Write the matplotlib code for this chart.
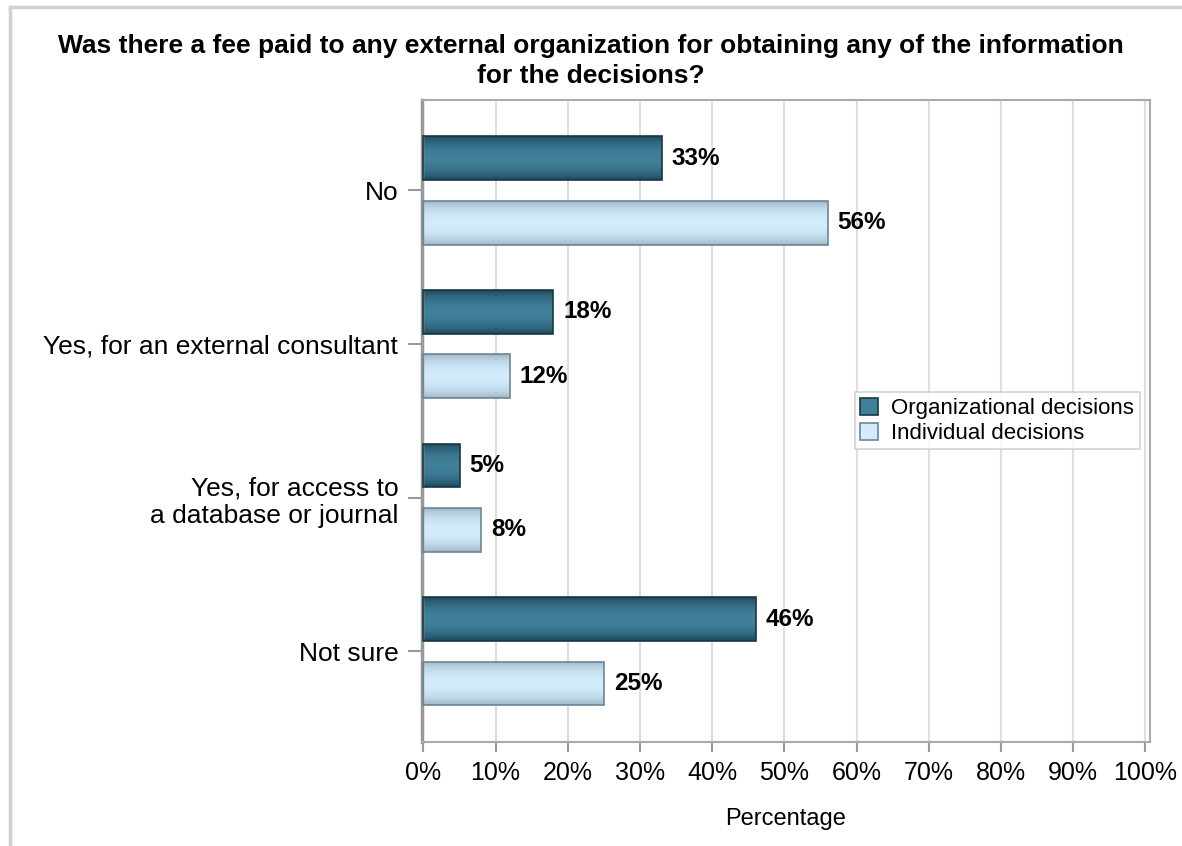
import numpy as np
import matplotlib
matplotlib.use("Agg")
import matplotlib.pyplot as plt
from matplotlib.colors import to_rgb
from matplotlib.lines import Line2D
from matplotlib.patches import Patch

plt.rcParams['font.family'] = ['Liberation Sans', 'DejaVu Sans']

title = "Was there a fee paid to any external organization for obtaining any of the information\nfor the decisions?"
categories = ["No", "Yes, for an external consultant", "Yes, for access to\na database or journal", "Not sure"]
series_names = ["Organizational decisions", "Individual decisions"]
org_values = [33, 18, 5, 46]
ind_values = [56, 12, 8, 25]
x_ticks = [0, 10, 20, 30, 40, 50, 60, 70, 80, 90, 100]

# (edge colour, centre colour, outline) for the shaded bars
styles = [
    ("#173f52", "#41809a", "#1a3645"),
    ("#97afbf", "#d3ecfc", "#6d8594"),
]


def shade(ax, rect, edge, centre):
    # vertical shading: dark at top/bottom edges, light through the middle
    t = np.linspace(0, 1, 64)
    w = np.sin(np.pi * t) ** 0.6
    e = np.array(to_rgb(edge))
    c = np.array(to_rgb(centre))
    img = (e[None, :] * (1 - w[:, None]) + c[None, :] * w[:, None])[:, None, :]
    x, y = rect.get_x(), rect.get_y()
    im = ax.imshow(img, extent=[x, x + rect.get_width(), y, y + rect.get_height()],
                   aspect='auto', interpolation='bilinear', zorder=2)
    im.set_clip_path(rect)


fig = plt.figure(figsize=(11.82, 8.46), dpi=100)
ax = fig.add_axes([0.357, 0.123, 0.616, 0.759])

pos = np.arange(len(categories))
h = 0.285
off = 0.21
for vals, sgn, (edge, centre, line) in zip([org_values, ind_values], [-1, 1], styles):
    bars = ax.barh(pos + sgn * off, vals, height=h, facecolor='none',
                   edgecolor=line, linewidth=1.2, zorder=3)
    for rect, v in zip(bars, vals):
        shade(ax, rect, edge, centre)
        ax.annotate(f"{v}%", (v, rect.get_y() + rect.get_height() / 2),
                    xytext=(7, 0), textcoords='offset points', va='center',
                    ha='left', fontsize=17.5, fontweight='bold', color='black')

ax.set_xlim(-0.2, 100.65)
ax.set_ylim(len(categories) - 1 + 0.59, -0.59)
ax.set_xticks(x_ticks)
ax.set_xticklabels([f"{t}%" for t in x_ticks], fontsize=18)
ax.set_yticks(pos)
ax.set_yticklabels(categories, fontsize=19)
ax.tick_params(axis='x', length=7, width=1.5, color='#9a9a9a', pad=7)
ax.tick_params(axis='y', length=10, width=1.5, color='#9a9a9a', pad=7)
ax.xaxis.grid(True, color='#dedede', linewidth=1.5, zorder=0)
ax.set_axisbelow(True)
for s in ['top', 'right', 'bottom']:
    ax.spines[s].set_color('#aaaaaa')
    ax.spines[s].set_linewidth(1.5)
ax.spines['left'].set_color('#999999')
ax.spines['left'].set_linewidth(2.5)

ax.set_xlabel("Percentage", fontsize=17, labelpad=16)

handles = [Patch(facecolor=styles[i][1], edgecolor=styles[i][2], linewidth=1.2)
           for i in range(2)]
leg = ax.legend(handles, series_names, loc='center right', bbox_to_anchor=(0.986, 0.5),
                fontsize=16, frameon=True, fancybox=False, handlelength=0.8,
                handleheight=0.8, handletextpad=0.6, borderpad=0.25, labelspacing=0.15,
                borderaxespad=0)
leg.get_frame().set_edgecolor('#c8c8c8')
leg.get_frame().set_linewidth(1.2)

fig.suptitle(title, fontsize=19, fontweight='bold', y=0.96, va='top', linespacing=1.3)

# light frame around the figure (top and left edges)
fig.add_artist(Line2D([0.0085, 0.0085], [0, 0.992], color='#d0d0d0', linewidth=2.5,
                      transform=fig.transFigure))
fig.add_artist(Line2D([0.0085, 1.0], [0.992, 0.992], color='#d0d0d0', linewidth=2.5,
                      transform=fig.transFigure))

fig.savefig("out.png", dpi=100)
